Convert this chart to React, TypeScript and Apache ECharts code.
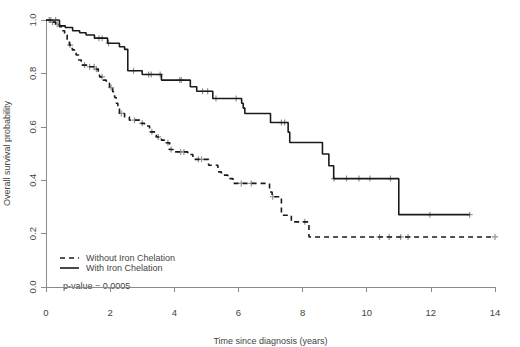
import React, { useEffect, useRef } from "react";
import * as echarts from "echarts";

// Kaplan-Meier step data: [time (years), survival probability]
const withTimes = [0, 0.42, 0.6, 0.83, 1.05, 1.25, 1.51, 1.92, 2.29, 2.45, 2.55, 3.0, 3.6, 4.5, 4.7, 5.2, 6.1, 6.15, 6.2, 7.0, 7.55, 7.6, 8.62, 8.82, 8.97, 11.0, 13.21];
const withSurv = [1.0, 0.978, 0.972, 0.96, 0.952, 0.944, 0.932, 0.913, 0.9, 0.89, 0.81, 0.796, 0.775, 0.75, 0.733, 0.706, 0.688, 0.67, 0.65, 0.616, 0.58, 0.541, 0.498, 0.454, 0.406, 0.271, 0.271];

const withoutTimes = [0, 0.15, 0.3, 0.42, 0.5, 0.58, 0.66, 0.73, 0.82, 0.94, 1.02, 1.1, 1.3, 1.57, 1.63, 1.67, 1.78, 1.88, 1.98, 2.08, 2.14, 2.19, 2.24, 2.29, 2.45, 2.6, 2.92, 3.07, 3.23, 3.44, 3.6, 3.75, 3.85, 3.96, 4.42, 4.58, 5.07, 5.36, 5.47, 5.67, 5.83, 6.97, 7.05, 7.34, 7.65, 8.2, 14.0];
const withoutSurv = [1.0, 0.992, 0.984, 0.975, 0.96, 0.944, 0.925, 0.906, 0.888, 0.869, 0.85, 0.831, 0.825, 0.816, 0.8, 0.787, 0.775, 0.763, 0.747, 0.731, 0.71, 0.688, 0.669, 0.65, 0.637, 0.625, 0.613, 0.603, 0.581, 0.562, 0.55, 0.54, 0.515, 0.506, 0.496, 0.478, 0.456, 0.431, 0.419, 0.406, 0.388, 0.356, 0.338, 0.269, 0.244, 0.1875, 0.1875];

// censoring times
const withCensor = [0.15, 0.3, 1.65, 1.75, 1.95, 2.73, 3.2, 3.28, 3.56, 4.17, 4.22, 4.88, 5.04, 5.3, 5.93, 7.34, 7.44, 8.98, 9.37, 9.76, 10.1, 10.74, 11.97, 13.21];
const withoutCensor = [0.1, 0.2, 0.35, 0.75, 1.2, 1.36, 1.5, 1.57, 1.75, 2.03, 2.35, 2.76, 3.0, 3.3, 3.5, 3.8, 3.9, 4.2, 4.3, 4.75, 4.85, 6.09, 6.4, 7.07, 8.07, 10.4, 10.7, 11.06, 11.29, 14.0];

const xTicks = [0, 2, 4, 6, 8, 10, 12, 14];
const yTicks = [0.0, 0.2, 0.4, 0.6, 0.8, 1.0];

const legendLabels = ["Without Iron Chelation", "With Iron Chelation"];
const pValueText = "p-value = 0.0005";

const FONT = "Liberation Sans, Arial, sans-serif";

function survAt(times: number[], surv: number[], t: number): number {
  let s = surv[0];
  for (let i = 0; i < times.length; i++) {
    if (times[i] <= t + 1e-9) s = surv[i];
  }
  return s;
}

const PLUS = "path://M2,0h1v2h2v1h-2v2h-1v-2h-2v-1h2z";

export default function App() {
  const ref = useRef<HTMLDivElement>(null);
  useEffect(() => {
    if (!ref.current) return;
    const chart = echarts.init(ref.current, null, { renderer: "svg" });
    const axisColor = "#8a8a8a";
    const labelColor = "#444";
    chart.setOption({
      animation: false,
      backgroundColor: "#fff",
      grid: { left: 46, right: 25, top: 20, bottom: 60, containLabel: false, outerBoundsMode: "none" },
      xAxis: {
        type: "value",
        min: xTicks[0],
        max: xTicks[xTicks.length - 1],
        interval: 2,
        offset: 11,
        name: "Time since diagnosis (years)",
        nameLocation: "middle",
        nameGap: 38,
        nameTextStyle: { fontFamily: FONT, fontSize: 9, color: labelColor },
        axisLine: { lineStyle: { color: axisColor, width: 1 } },
        axisTick: { length: 5, lineStyle: { color: axisColor } },
        axisLabel: { fontFamily: FONT, fontSize: 9.5, color: labelColor, margin: 9 },
        splitLine: { show: false },
      },
      yAxis: {
        type: "value",
        min: yTicks[0],
        max: yTicks[yTicks.length - 1],
        interval: 0.2,
        name: "Overall survival probability",
        nameLocation: "middle",
        nameGap: 35,
        nameTextStyle: { fontFamily: FONT, fontSize: 9, color: labelColor },
        axisLine: { show: true, lineStyle: { color: axisColor, width: 1 } },
        axisTick: { show: true, length: 5, lineStyle: { color: axisColor } },
        axisLabel: {
          fontFamily: FONT,
          fontSize: 9.5,
          color: labelColor,
          rotate: 90,
          margin: 9,
          formatter: (v: number) => v.toFixed(1),
        },
        splitLine: { show: false },
      },
      series: [
        {
          type: "line",
          name: legendLabels[0],
          step: "end",
          showSymbol: false,
          data: withoutTimes.map((t, i) => [t, withoutSurv[i]]),
          lineStyle: { color: "#1a1a1a", width: 1.6, type: [5, 4] },
        },
        {
          type: "line",
          name: legendLabels[1],
          step: "end",
          showSymbol: false,
          data: withTimes.map((t, i) => [t, withSurv[i]]),
          lineStyle: { color: "#1a1a1a", width: 1.6 },
        },
        {
          type: "scatter",
          symbol: PLUS,
          symbolSize: 6,
          itemStyle: { color: "#777" },
          data: withoutCensor.map((t) => [t, survAt(withoutTimes, withoutSurv, t)]),
        },
        {
          type: "scatter",
          symbol: PLUS,
          symbolSize: 6,
          itemStyle: { color: "#777" },
          data: withCensor.map((t) => [t, survAt(withTimes, withSurv, t)]),
        },
      ],
      graphic: [
        {
          type: "line",
          shape: { x1: 60, y1: 258, x2: 79, y2: 258 },
          style: { stroke: "#1a1a1a", lineWidth: 1.6, lineDash: [5, 4] },
        },
        {
          type: "line",
          shape: { x1: 60, y1: 268, x2: 79, y2: 268 },
          style: { stroke: "#1a1a1a", lineWidth: 1.6 },
        },
        {
          type: "text",
          x: 86,
          y: 258,
          style: { text: legendLabels[0], font: `9px ${FONT}`, fill: labelColor, verticalAlign: "middle" },
        },
        {
          type: "text",
          x: 86,
          y: 268,
          style: { text: legendLabels[1], font: `9px ${FONT}`, fill: labelColor, verticalAlign: "middle" },
        },
        {
          type: "text",
          x: 63,
          y: 286,
          style: { text: pValueText, font: `9px ${FONT}`, fill: labelColor, verticalAlign: "middle" },
        },
      ],
    });
    return () => chart.dispose();
  }, []);
  return <div ref={ref} style={{ width: 520, height: 347, position: "absolute", left: 0, top: 0 }} />;
}
